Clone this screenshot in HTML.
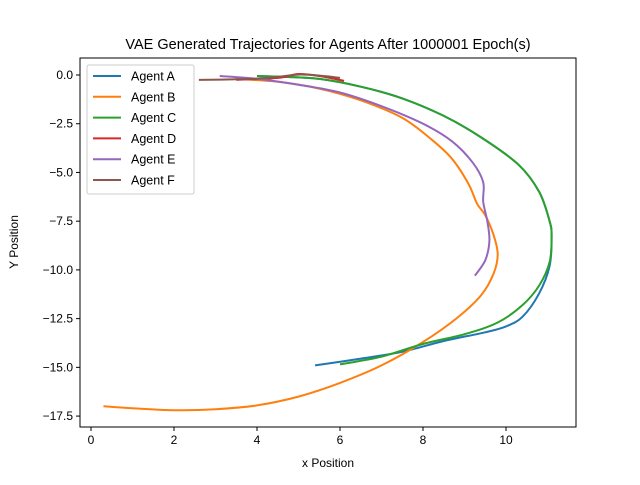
<!DOCTYPE html>
<html><head><meta charset="utf-8"><style>
body{margin:0;background:#fff}
svg text{font-family:"Liberation Sans","DejaVu Sans",sans-serif;}
</style></head><body>
<svg id="chart" width="640" height="480" xmlns="http://www.w3.org/2000/svg">
<rect width="640" height="480" fill="#fff"/>
<text x="328" y="49" font-size="14.5" text-anchor="middle">VAE Generated Trajectories for Agents After 1000001 Epoch(s)</text>
<g id="series"></g>
<g id="axes"></g>
<text x="328" y="467" font-size="12" text-anchor="middle">x Position</text>
<text x="18" y="242" font-size="12" text-anchor="middle" transform="rotate(-90 18 242)">Y Position</text>
<g id="legend"></g>
</svg>
<script>
const agentNames=["Agent A","Agent B","Agent C","Agent D","Agent E","Agent F"];
const agentColors=["#1f77b4","#ff7f0e","#2ca02c","#d62728","#9467bd","#8c564b"];
const agentA=[[5.4,-14.9],[6.5,-14.55],[7.5,-14.2],[8.5,-13.65],[9.5,-13.2],[10,-12.9],[10.4,-12.4],[10.8,-11.2],[11.05,-9.8],[11.1,-8.3],[11.05,-7.5],[10.8,-6],[10.3,-4.6],[9.4,-3.2],[8.5,-2.1],[7.5,-1.2],[6.5,-0.6],[5.5,-0.2],[4.5,-0.08],[4,-0.05]];
const agentB=[[0.3,-17],[1,-17.1],[2,-17.2],[3,-17.15],[4,-16.95],[5,-16.5],[6,-15.8],[7,-14.9],[8,-13.7],[8.8,-12.5],[9.4,-11.3],[9.7,-10.2],[9.8,-9.2],[9.7,-8.2],[9.5,-7.2],[9.3,-6.6],[9.1,-5.6],[8.7,-4.3],[8.2,-3.3],[7.5,-2.2],[6.5,-1.3],[5.5,-0.7],[4.5,-0.35],[3.5,-0.2]];
const agentC=[[6,-14.85],[7,-14.45],[8,-13.8],[9,-13.3],[9.8,-12.7],[10.4,-11.8],[10.8,-10.8],[11.05,-9.6],[11.1,-8.3],[11.05,-7.5],[10.8,-6],[10.3,-4.6],[9.4,-3.2],[8.5,-2.1],[7.5,-1.2],[6.5,-0.6],[5.5,-0.2],[4.5,-0.08],[4,-0.05]];
const agentD=[[3.5,-0.25],[4.5,-0.15],[5,0.05],[5.5,-0.05],[6.1,-0.3]];
const agentE=[[3.1,-0.05],[4,-0.2],[5,-0.5],[6,-0.9],[7,-1.6],[8,-2.5],[8.7,-3.4],[9.2,-4.5],[9.45,-5.5],[9.45,-6.5],[9.55,-7.5],[9.6,-8.5],[9.5,-9.5],[9.25,-10.3]];
const agentF=[[2.6,-0.25],[3.5,-0.22],[4.3,-0.15],[5,0.02],[5.6,-0.05],[6,-0.15]];
const xTicks=[0,2,4,6,8,10];
const yTicks=[0,-2.5,-5,-7.5,-10,-12.5,-15,-17.5];
const yTickLabels=["0.0","−2.5","−5.0","−7.5","−10.0","−12.5","−15.0","−17.5"];
const NS="http://www.w3.org/2000/svg";
const L=80,T=58,R=576,B=427;
const xs=v=>91+41.5*v;
const ys=v=>75-19.49*v;
function smoothPath(pts){
  const P=pts.map(d=>[xs(d[0]),ys(d[1])]);
  let s='M'+P[0][0].toFixed(1)+','+P[0][1].toFixed(1);
  for(let i=0;i<P.length-1;i++){
    const p0=P[Math.max(0,i-1)],p1=P[i],p2=P[i+1],p3=P[Math.min(P.length-1,i+2)];
    const c1=[p1[0]+(p2[0]-p0[0])/6,p1[1]+(p2[1]-p0[1])/6];
    const c2=[p2[0]-(p3[0]-p1[0])/6,p2[1]-(p3[1]-p1[1])/6];
    s+=' C'+c1.map(v=>v.toFixed(1)).join(',')+' '+c2.map(v=>v.toFixed(1)).join(',')+' '+p2[0].toFixed(1)+','+p2[1].toFixed(1);
  }
  return s;
}
const series=[agentA,agentB,agentC,agentD,agentE,agentF];
const sg=document.getElementById('series');
series.forEach((pts,i)=>{
  const p=document.createElementNS(NS,'path');
  
  
  p.setAttribute('d',smoothPath(pts));
  p.setAttribute('fill','none');p.setAttribute('stroke',agentColors[i]);
  p.setAttribute('stroke-width','2');p.setAttribute('stroke-linejoin','round');
  sg.appendChild(p);
});
const ag=document.getElementById('axes');
const fr=document.createElementNS(NS,'rect');


fr.setAttribute('x',L);fr.setAttribute('y',T);fr.setAttribute('width',R-L);fr.setAttribute('height',B-T);
fr.setAttribute('fill','none');fr.setAttribute('stroke','#000');fr.setAttribute('stroke-width','1');
ag.appendChild(fr);
xTicks.forEach(v=>{
  const x=xs(v);
  const l=document.createElementNS(NS,'line');
  
  
  l.setAttribute('x1',x);l.setAttribute('x2',x);l.setAttribute('y1',B);l.setAttribute('y2',B+4);l.setAttribute('stroke','#000');
  ag.appendChild(l);
  const t=document.createElementNS(NS,'text');
  
  
  t.setAttribute('x',x);t.setAttribute('y',B+17);t.setAttribute('font-size','12');t.setAttribute('text-anchor','middle');
  t.textContent=v;ag.appendChild(t);
});
yTicks.forEach((v,i)=>{
  const y=ys(v);
  const l=document.createElementNS(NS,'line');
  
  
  l.setAttribute('x1',L-4);l.setAttribute('x2',L);l.setAttribute('y1',y);l.setAttribute('y2',y);l.setAttribute('stroke','#000');
  ag.appendChild(l);
  const t=document.createElementNS(NS,'text');
  
  
  t.setAttribute('x',L-7);t.setAttribute('y',y+4);t.setAttribute('font-size','12');t.setAttribute('text-anchor','end');
  t.textContent=yTickLabels[i];ag.appendChild(t);
});
const lg=document.getElementById('legend');
const box=document.createElementNS(NS,'rect');


box.setAttribute('x',87);box.setAttribute('y',65);box.setAttribute('width',107);box.setAttribute('height',129);box.setAttribute('rx',2);
box.setAttribute('fill','#fff');box.setAttribute('fill-opacity','0.8');box.setAttribute('stroke','#ccc');
lg.appendChild(box);
agentNames.forEach((n,i)=>{
  const y=76+i*20.8;
  const l=document.createElementNS(NS,'line');
  
  
  l.setAttribute('x1',93);l.setAttribute('x2',121);l.setAttribute('y1',y);l.setAttribute('y2',y);
  l.setAttribute('stroke',agentColors[i]);l.setAttribute('stroke-width','2');
  lg.appendChild(l);
  const t=document.createElementNS(NS,'text');
  
  
  t.setAttribute('x',131);t.setAttribute('y',y+4.5);t.setAttribute('font-size','12.5');
  t.textContent=n;lg.appendChild(t);
});
</script>
</body></html>
